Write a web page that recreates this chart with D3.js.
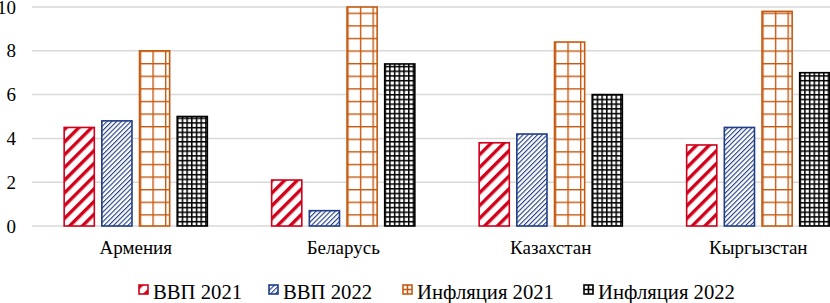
<!DOCTYPE html>
<html>
<head>
<meta charset="utf-8">
<script src="https://cdn.jsdelivr.net/npm/d3@7"></script>
<style>
  body { margin: 0; background: #fff; }
  svg { display: block; }
</style>
</head>
<body>
<div id="chart"></div>
<script>
var countries = ["Армения", "Беларусь", "Казахстан", "Кыргызстан"];
var seriesNames = ["ВВП 2021", "ВВП 2022", "Инфляция 2021", "Инфляция 2022"];
var gdp2021 = [4.5, 2.1, 3.8, 3.7];
var gdp2022 = [4.8, 0.7, 4.2, 4.5];
var infl2021 = [8.0, 10.0, 8.4, 9.8];
var infl2022 = [5.0, 7.4, 6.0, 7.0];
var yTicks = [0, 2, 4, 6, 8, 10];

var seriesValues = [gdp2021, gdp2022, infl2021, infl2022];
var strokes = ["#d0021b", "#1f3c88", "#c55a11", "#000000"];
var patternIds = ["pRed", "pBlue", "pOrange", "pBlack"];

var width = 830, height = 303;
var svg = d3.select("#chart").append("svg")
  .attr("width", width)
  .attr("height", height)
  .style("font-family", "'Liberation Serif', serif");

// patterns
var defs = svg.append("defs");

var p1 = defs.append("pattern").attr("id", "pRed")
  .attr("patternUnits", "userSpaceOnUse")
  .attr("width", 9).attr("height", 9)
  .attr("patternTransform", "rotate(45)");
p1.append("rect").attr("width", 9).attr("height", 9).attr("fill", "#fff");
p1.append("rect").attr("width", 3.4).attr("height", 9).attr("fill", strokes[0]);

var p2 = defs.append("pattern").attr("id", "pBlue")
  .attr("patternUnits", "userSpaceOnUse")
  .attr("width", 3.4).attr("height", 3.4)
  .attr("patternTransform", "rotate(45)");
p2.append("rect").attr("width", 3.4).attr("height", 3.4).attr("fill", "#fff");
p2.append("rect").attr("width", 1.1).attr("height", 3.4).attr("fill", strokes[1]);

var p3 = defs.append("pattern").attr("id", "pOrange")
  .attr("patternUnits", "userSpaceOnUse")
  .attr("width", 12.6).attr("height", 12.6);
p3.append("rect").attr("width", 12.6).attr("height", 12.6).attr("fill", "#fff");
p3.append("rect").attr("width", 12.6).attr("height", 1.4).attr("fill", strokes[2]);
p3.append("rect").attr("width", 1.4).attr("height", 12.6).attr("fill", strokes[2]);

var p4 = defs.append("pattern").attr("id", "pBlack")
  .attr("patternUnits", "userSpaceOnUse")
  .attr("width", 4.7).attr("height", 4.7);
p4.append("rect").attr("width", 4.7).attr("height", 4.7).attr("fill", "#fff");
p4.append("rect").attr("width", 4.7).attr("height", 1.5).attr("fill", "#000");
p4.append("rect").attr("width", 1.5).attr("height", 4.7).attr("fill", "#000");

// scales (plot runs past the right edge, as in the source)
var mLeft = 32, mRight = 862, mTop = 7, mBottom = 226;
var x0 = d3.scaleBand().domain(countries).range([mLeft, mRight]).paddingInner(0.31).paddingOuter(0.155);
var x1 = d3.scaleBand().domain(seriesNames).range([0, x0.bandwidth()]).paddingInner(0.2).paddingOuter(0);
var y = d3.scaleLinear().domain([0, 10]).range([mBottom, mTop]);

// gridlines
svg.append("g").selectAll("line")
  .data(yTicks)
  .enter().append("line")
  .attr("x1", mLeft).attr("x2", width)
  .attr("y1", d => y(d)).attr("y2", d => y(d))
  .attr("stroke", "#d9d9d9")
  .attr("stroke-width", 1.5);

// y tick labels
svg.append("g").selectAll("text")
  .data(yTicks)
  .enter().append("text")
  .attr("x", 16)
  .attr("y", d => y(d))
  .attr("dy", "0.35em")
  .attr("text-anchor", "end")
  .attr("font-size", 19)
  .attr("fill", "#000")
  .text(d => d);

// bars
var groups = svg.append("g").selectAll("g")
  .data(countries)
  .enter().append("g")
  .attr("transform", d => "translate(" + x0(d) + ",0)");

groups.selectAll("rect")
  .data((c, ci) => seriesNames.map((s, si) => ({ s: s, si: si, v: seriesValues[si][ci] })))
  .enter().append("rect")
  .attr("x", d => x1(d.s))
  .attr("y", d => y(d.v))
  .attr("width", x1.bandwidth())
  .attr("height", d => mBottom - y(d.v))
  .attr("fill", d => "url(#" + patternIds[d.si] + ")")
  .attr("stroke", d => strokes[d.si])
  .attr("stroke-width", 1.6);

// category labels
svg.append("g").selectAll("text")
  .data(countries)
  .enter().append("text")
  .attr("x", d => x0(d) + x0.bandwidth() / 2)
  .attr("y", 254)
  .attr("text-anchor", "middle")
  .attr("font-size", 19)
  .attr("fill", "#000")
  .text(d => d);

// legend
var legendX = [139, 269, 403, 584];
var legend = svg.append("g").selectAll("g")
  .data(seriesNames)
  .enter().append("g")
  .attr("transform", (d, i) => "translate(" + legendX[i] + ",285)");

legend.append("rect")
  .attr("width", 9).attr("height", 9)
  .attr("fill", (d, i) => i < 2 ? "url(#" + patternIds[i] + ")" : "#fff")
  .attr("stroke", (d, i) => strokes[i])
  .attr("stroke-width", 1.6);

// grid swatches get a single cross, like the source legend
legend.filter((d, i) => i >= 2).append("path")
  .attr("d", "M4.5,0V9M0,4.5H9")
  .attr("stroke", (d, i) => strokes[i + 2])
  .attr("stroke-width", 1.6);

legend.append("text")
  .attr("x", 14)
  .attr("y", 13.5)
  .attr("font-size", 20.7)
  .attr("fill", "#000")
  .text(d => d);
</script>
</body>
</html>
